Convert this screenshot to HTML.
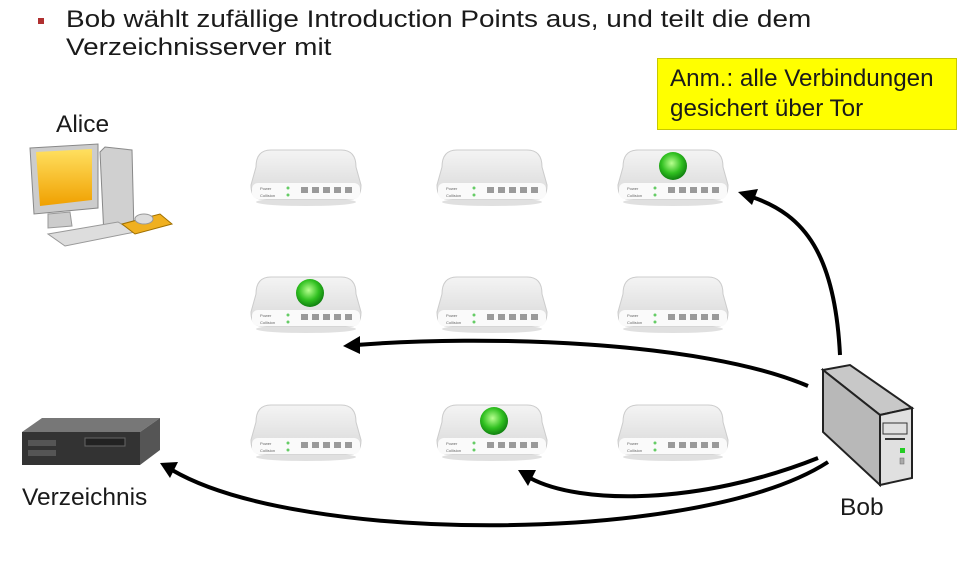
<!DOCTYPE html>
<html><head><meta charset="utf-8"><style>
body{margin:0;width:961px;height:564px;background:#fff;overflow:hidden;font-family:"Liberation Sans",sans-serif;position:relative}
.t{position:absolute;font-size:26px;color:#1a1a1a;line-height:28px}
</style></head><body>
<div style="position:absolute;left:38px;top:18px;width:6px;height:6px;background:#b03030"></div>
<div class="t" style="left:66px;top:6px;font-size:24.5px;transform:scaleX(1.14);transform-origin:0 0;white-space:nowrap">Bob wählt zufällige Introduction Points aus, und teilt die dem<br>Verzeichnisserver mit</div>
<div style="position:absolute;left:657px;top:58px;width:300px;height:72px;background:#ffff00;border:1px solid #c8c800;box-sizing:border-box;padding:5px 0 0 12px;font-size:24.2px;line-height:30px;color:#1a1a1a">Anm.: alle Verbindungen<br>gesichert über Tor</div>
<div class="t" style="left:56px;top:111px;font-size:24.5px">Alice</div>
<div class="t" style="left:22px;top:484px;font-size:24.5px">Verzeichnis</div>
<div class="t" style="left:840px;top:494px;font-size:24.5px">Bob</div>
<svg width="961" height="564" style="position:absolute;left:0;top:0">
<defs>
<linearGradient id="rt" x1="0" y1="0" x2="0" y2="1"><stop offset="0" stop-color="#f4f4f4"/><stop offset="1" stop-color="#d8d8d8"/></linearGradient>
<radialGradient id="gl" cx="0.45" cy="0.4" r="0.6"><stop offset="0" stop-color="#b8ff90"/><stop offset="0.6" stop-color="#30c020"/><stop offset="1" stop-color="#108010"/></radialGradient>
<linearGradient id="sc" x1="0" y1="0" x2="0" y2="1"><stop offset="0" stop-color="#ffe060"/><stop offset="1" stop-color="#f0a000"/></linearGradient>
<g id="r">
<ellipse cx="0" cy="27" rx="50" ry="4" fill="#ccc" opacity="0.6"/>
<path d="M-50,-8 Q-50,-25 -35,-25 L35,-25 Q50,-25 50,-8 L55,10 Q55,24 45,24 L-45,24 Q-55,24 -55,10 Z" fill="url(#rt)" stroke="#ccc"/>
<rect x="-54" y="8" width="108" height="16" rx="6" fill="#fafafa"/>
<g fill="#9a9a9a"><rect x="-5" y="12" width="7" height="6"/><rect x="6" y="12" width="7" height="6"/><rect x="17" y="12" width="7" height="6"/><rect x="28" y="12" width="7" height="6"/><rect x="39" y="12" width="7" height="6"/></g>
<g fill="#6c6"><circle cx="-18" cy="13" r="1.5"/><circle cx="-18" cy="20" r="1.5"/></g>
<text x="-46" y="15" font-size="4" fill="#666">Power</text><text x="-46" y="22" font-size="4" fill="#666">Collision</text>
</g>
</defs>
<use href="#r" x="306" y="175"/><use href="#r" x="492" y="175"/><use href="#r" x="673" y="175"/>
<use href="#r" x="306" y="302"/><use href="#r" x="492" y="302"/><use href="#r" x="673" y="302"/>
<use href="#r" x="306" y="430"/><use href="#r" x="492" y="430"/><use href="#r" x="673" y="430"/>
<circle cx="673" cy="166" r="14" fill="url(#gl)"/><circle cx="310" cy="293" r="14" fill="url(#gl)"/><circle cx="494" cy="421" r="14" fill="url(#gl)"/>
<!-- Alice PC -->
<path d="M100,152 L105,147 L132,150 L134,232 L104,236 Z" fill="#d0d0d0" stroke="#888"/>
<path d="M30,148 L98,144 L98,208 L34,214 Z" fill="#ccc" stroke="#888"/>
<path d="M36,152 L92,149 L92,200 L40,206 Z" fill="url(#sc)"/>
<path d="M48,214 L70,212 L72,226 L48,228 Z" fill="#ccc" stroke="#999"/>
<path d="M48,234 L118,222 L135,232 L65,246 Z" fill="#ddd" stroke="#999"/>
<path d="M122,224 L160,214 L172,224 L135,234 Z" fill="#f0b020" stroke="#a07000"/>
<ellipse cx="144" cy="219" rx="9" ry="5" fill="#ddd" stroke="#999"/>
<!-- Verzeichnis server -->
<path d="M22,432 L42,418 L160,418 L140,432 Z" fill="#777"/>
<path d="M22,432 L140,432 L140,465 L22,465 Z" fill="#333"/>
<path d="M140,432 L160,418 L160,450 L140,465 Z" fill="#555"/>
<rect x="28" y="440" width="28" height="6" fill="#555"/><rect x="28" y="450" width="28" height="6" fill="#555"/><rect x="85" y="438" width="40" height="8" fill="#222" stroke="#666"/>
<!-- Bob server -->
<path d="M823,370 L850,365 L912,408 L880,415 Z" fill="#c8c8c8" stroke="#222" stroke-width="2"/>
<path d="M823,370 L880,415 L880,485 L823,432 Z" fill="#b8b8b8" stroke="#222" stroke-width="2"/>
<path d="M880,415 L912,408 L912,478 L880,485 Z" fill="#e0e0e0" stroke="#222" stroke-width="2"/>
<rect x="883" y="423" width="24" height="11" fill="none" stroke="#333"/><rect x="885" y="438" width="20" height="2" fill="#333"/>
<rect x="900" y="448" width="5" height="5" fill="#2c2"/><rect x="900" y="458" width="4" height="6" fill="#aaa" stroke="#666" stroke-width="0.5"/>
<!-- arrows -->
<g fill="none" stroke="#000" stroke-width="4">
<path d="M840,355 C835,255 805,215 752,197"/>
<path d="M808,386 C700,340 480,335 356,345"/>
<path d="M818,458 C700,505 580,505 530,478"/>
<path d="M828,462 C700,545 300,545 172,470"/>
</g>
<g fill="#000">
<polygon points="738,192 758,189 752,205"/>
<polygon points="343,346 360,336 360,354"/>
<polygon points="518,470 536,470 528,486"/>
<polygon points="160,463 178,462 170,478"/>
</g>
</svg>
</body></html>
